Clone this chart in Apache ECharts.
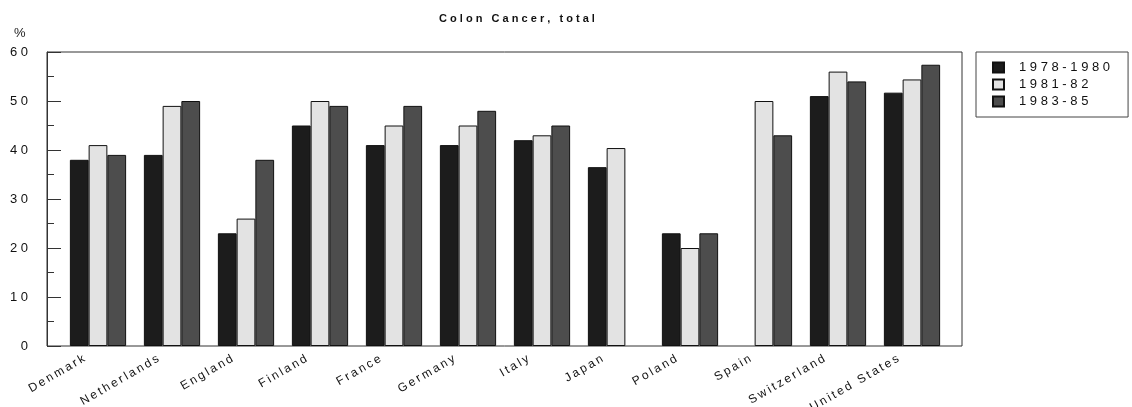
<!DOCTYPE html>
<html>
<head>
<meta charset="utf-8">
<script src="https://cdn.jsdelivr.net/npm/echarts@6/dist/echarts.min.js"></script>
<style>
  html, body { margin: 0; padding: 0; background: #fff; }
  #chart { width: 1132px; height: 407px; }
</style>
</head>
<body>
<div id="chart"></div>
<script>
// data
var countries = ['Denmark', 'Netherlands', 'England', 'Finland', 'France', 'Germany',
  'Italy', 'Japan', 'Poland', 'Spain', 'Switzerland', 'United States']
var period1 = [38, 39, 23, 45, 41, 41, 42, 36.5, 23, null, 51, 51.7]
var period2 = [41, 49, 26, 50, 45, 45, 43, 40.4, 20, 50, 56, 54.4]
var period3 = [39, 50, 38, 49, 49, 48, 45, null, 23, 43, 54, 57.4]
var periodNames = ['1978-1980', '1981-82', '1983-85']
var yTicks = [0, 10, 20, 30, 40, 50, 60]

var font = 'Liberation Sans, Arial, sans-serif'

// spread letters out like the original print
function spaced (s, sep) {
  return String(s).split('').join(sep)
}

function barSeries (name, data, color) {
  return {
    name: name,
    type: 'bar',
    xAxisIndex: 1,
    yAxisIndex: 1,
    data: data,
    barGap: '0%',
    barCategoryGap: '24%',
    itemStyle: {
      color: color,
      borderColor: '#111',
      borderWidth: 1
    }
  }
}

var chart = echarts.init(document.getElementById('chart'))
chart.setOption({
  animation: false,
  title: [
    {
      text: spaced('Colon Cancer, total', ' '),
      left: 512,
      textAlign: 'center',
      top: 8,
      textStyle: { fontFamily: font, fontSize: 11, fontWeight: 'bold', color: '#111' }
    },
    {
      text: '%',
      left: 9,
      top: 22,
      textStyle: { fontFamily: font, fontSize: 13, fontWeight: 'normal', color: '#222' }
    }
  ],
  legend: {
    orient: 'vertical',
    left: 976,
    top: 52,
    padding: [9, 18, 9, 16],
    borderColor: '#444',
    borderWidth: 1,
    itemWidth: 11,
    itemHeight: 10,
    itemGap: 4,
    icon: 'rect',
    data: periodNames,
    formatter: function (name) { return spaced(name, ' ') },
    textStyle: { fontFamily: font, fontSize: 13, lineHeight: 12, color: '#111', padding: [0, 0, 0, 10] }
  },
  grid: [
    { left: 47, right: 170, top: 52, bottom: 61, show: true, borderColor: '#333', borderWidth: 1, outerBoundsMode: 'none' },
    { left: 61, right: 183, top: 52, bottom: 61, outerBoundsMode: 'none' }
  ],
  xAxis: [
    { type: 'value', gridIndex: 0, show: false, min: 0, max: 1 },
    {
      type: 'category',
      gridIndex: 1,
      data: countries,
      axisLine: { show: false },
      axisTick: { show: true, inside: true, length: 10, alignWithLabel: true, lineStyle: { color: '#333' } },
      axisLabel: {
        rotate: 30,
        interval: 0,
        margin: 4,
        padding: [0, 16, 0, 0],
        color: '#111',
        fontFamily: font,
        fontSize: 12,
        formatter: function (v) { return spaced(v, '\u2009') }
      }
    }
  ],
  yAxis: [
    {
      type: 'value',
      gridIndex: 0,
      min: yTicks[0],
      max: yTicks[yTicks.length - 1],
      interval: 10,
      axisLine: { show: true, lineStyle: { color: '#333' } },
      axisTick: { show: true, inside: true, length: 14, lineStyle: { color: '#333' } },
      minorTick: { show: true, splitNumber: 2, length: 7, lineStyle: { color: '#333' } },
      splitLine: { show: false },
      axisLabel: {
        margin: 19,
        color: '#111',
        fontFamily: font,
        fontSize: 13,
        formatter: function (v) { return spaced(v, ' ') }
      }
    },
    { type: 'value', gridIndex: 1, min: 0, max: 60, show: false }
  ],
  series: [
    barSeries(periodNames[0], period1, '#1c1c1c'),
    barSeries(periodNames[1], period2, '#e3e3e3'),
    barSeries(periodNames[2], period3, '#4d4d4d')
  ]
})
</script>
</body>
</html>
